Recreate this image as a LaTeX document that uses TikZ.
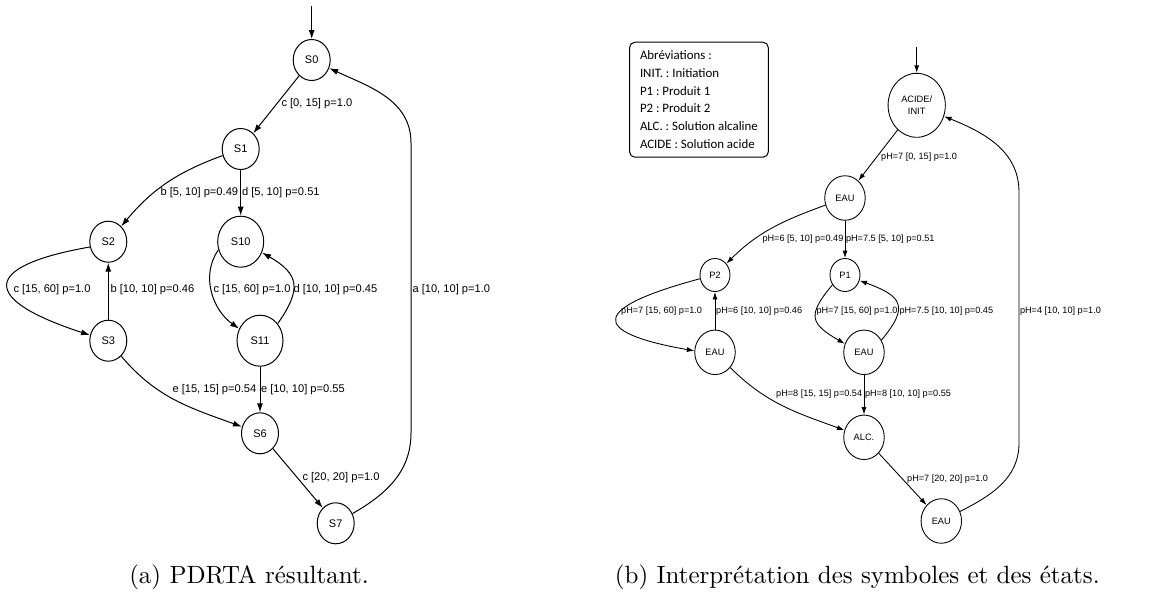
\documentclass[tikz,border=0pt]{standalone}
\usepackage{fontspec}
\newfontfamily\arialfont{Liberation Sans}
\newfontfamily\calibrifont{Carlito}
\usetikzlibrary{arrows.meta,shapes.geometric}
\frenchspacing
\tikzset{
  st/.style={ellipse,draw,line width=0.4pt,inner sep=0pt,minimum width=14.8pt,minimum height=16.4pt,font=\arialfont\fontsize{4.4}{5}\selectfont},
  bigst/.style={st,minimum width=18.4pt,minimum height=20.4pt},
  etat/.style={ellipse,draw,line width=0.35pt,inner sep=0pt,minimum width=16.2pt,minimum height=17.8pt,align=center,font=\arialfont\fontsize{3.7}{4.9}\selectfont},
  petitetat/.style={etat,minimum width=12pt,minimum height=13.2pt},
  grandetat/.style={etat,minimum width=22.9pt,minimum height=25.6pt},
  lbl/.style={anchor=west,inner sep=0pt,font=\arialfont\fontsize{4.45}{5}\selectfont},
  lblb/.style={anchor=west,inner sep=0pt,font=\arialfont\fontsize{3.66}{4.5}\selectfont},
  trans/.style={-{Latex[length=3.6pt,width=2.4pt]},line width=0.4pt},
  transb/.style={-{Latex[length=3pt,width=2pt]},line width=0.35pt},
  legende/.style={draw,rounded corners=2.2pt,line width=0.4pt,align=left,inner xsep=4.2pt,inner ysep=3.5pt,font=\calibrifont\fontsize{5.15}{7.08}\selectfont\frenchspacing}
}
\begin{document}
\begin{tikzpicture}[x=0.4pt,y=0.4pt]
\useasboundingbox (0,0) rectangle (1168,-594);
% (a) PDRTA
\node[st] (S0) at (311.7,-60) {S0};
\node[st] (S1) at (240.7,-149) {S1};
\node[st] (S2) at (108.3,-241.7) {S2};
\node[bigst] (S10) at (240.7,-241.7) {S10};
\node[st] (S3) at (108.3,-340.7) {S3};
\node[bigst] (S11) at (260,-340.7) {S11};
\node[st] (S6) at (260,-433.3) {S6};
\node[st] (S7) at (335.7,-523.3) {S7};
\coordinate (i0) at (311.7,-6);
\coordinate (aB) at (411,-433);
\coordinate (aT) at (411,-143);
\draw[trans] (i0) -- (S0);
\draw[trans] (S0) -- (S1);
\draw[trans] (S1) to[out=200,in=50] (S2);
\draw[trans] (S1) -- (S10);
\draw[trans] (S2.196) to[out=190,in=162,looseness=3.3] (S3.163);
\draw[trans] (S3) -- (S2);
\draw[trans] (S10.200) to[out=235,in=145] (S11.150);
\draw[trans] (S11.44) to[out=55,in=-30,looseness=1.5] (S10.-27);
\draw[trans] (S3) to[out=-50,in=160] (S6);
\draw[trans] (S11) -- (S6);
\draw[trans] (S6) -- (S7);
\draw[trans] (S7) to[out=30,in=-90] (aB) -- (aT) to[out=90,in=-25] (S0);
\node[lbl] (l01) at (281,-104) {c [0, 15] p=1.0};
\node[lbl] (l12) at (160,-193) {b [5, 10] p=0.49};
\node[lbl] (l110) at (241.5,-193) {d [5, 10] p=0.51};
\node[lbl] (l23) at (13,-290) {c [15, 60] p=1.0};
\node[lbl] (l32) at (110,-290) {b [10, 10] p=0.46};
\node[lbl] (l1011) at (213,-290) {c [15, 60] p=1.0};
\node[lbl] (l1110) at (293,-290) {d [10, 10] p=0.45};
\node[lbl] (l70) at (412,-290) {a [10, 10] p=1.0};
\node[lbl] (l36) at (172,-390) {e [15, 15] p=0.54};
\node[lbl] (l116) at (260.5,-390) {e [10, 10] p=0.55};
\node[lbl] (l67) at (302,-478) {c [20, 20] p=1.0};
\node (capA) at (249,-577) {(a) PDRTA résultant.};
% (b) interpretation
\node[legende,anchor=north west] (abr) at (629,-41.7) {Abréviations :\\INIT. : Initiation\\P1 : Produit 1\\P2 : Produit 2\\ALC. : Solution alcaline\\ACIDE : Solution acide};
\node[grandetat] (acide) at (916.7,-105.3) {ACIDE/\\INIT};
\node[etat] (eau1) at (845,-198) {EAU};
\node[petitetat] (p2) at (715,-275) {P2};
\node[petitetat] (p1) at (845,-275) {P1};
\node[etat] (eau2) at (715,-352.3) {EAU};
\node[etat] (eau3) at (864,-352.3) {EAU};
\node[etat] (alc) at (864,-437.3) {ALC.};
\node[etat] (eau4) at (941.3,-521) {EAU};
\coordinate (iA) at (916.7,-46.7);
\coordinate (rB) at (1019,-443);
\coordinate (rT) at (1019,-192);
\draw[transb] (iA) -- (acide);
\draw[transb] (acide) -- (eau1);
\draw[transb] (eau1) to[out=200,in=45] (p2);
\draw[transb] (eau1) -- (p1);
\draw[transb] (p2.194) to[out=195,in=170,looseness=3.9] (eau2.176);
\draw[transb] (eau2) -- (p2);
\draw[transb] (p1.218) to[out=230,in=150,looseness=1.7] (eau3.156);
\draw[transb] (eau3.35) to[out=50,in=-20,looseness=1.8] (p1.-21);
\draw[transb] (eau2) to[out=-45,in=160] (alc);
\draw[transb] (eau3) -- (alc);
\draw[transb] (alc) -- (eau4);
\draw[transb] (eau4) to[out=27,in=-90] (rB) -- (rT) to[out=90,in=-22] (acide);
\node[lblb] (m01) at (880.7,-156.7) {pH=7 [0, 15] p=1.0};
\node[lblb] (m12) at (762,-239.3) {pH=6 [5, 10] p=0.49};
\node[lblb] (m11) at (845.5,-239.3) {pH=7.5 [5, 10] p=0.51};
\node[lblb] (m23) at (620.7,-311) {pH=7 [15, 60] p=1.0};
\node[lblb] (m32) at (715.7,-311) {pH=6 [10, 10] p=0.46};
\node[lblb] (m1011) at (816,-311) {pH=7 [15, 60] p=1.0};
\node[lblb] (m1110) at (899,-311) {pH=7.5 [10, 10] p=0.45};
\node[lblb] (m70) at (1019.5,-311) {pH=4 [10, 10] p=1.0};
\node[lblb] (m36) at (775.7,-394.3) {pH=8 [15, 15] p=0.54};
\node[lblb] (m116) at (864.5,-394.3) {pH=8 [10, 10] p=0.55};
\node[lblb] (m67) at (906.7,-479.3) {pH=7 [20, 20] p=1.0};
\node (capB) at (857.3,-577) {(b) Interprétation des symboles et des états.};
\end{tikzpicture}
\end{document}
